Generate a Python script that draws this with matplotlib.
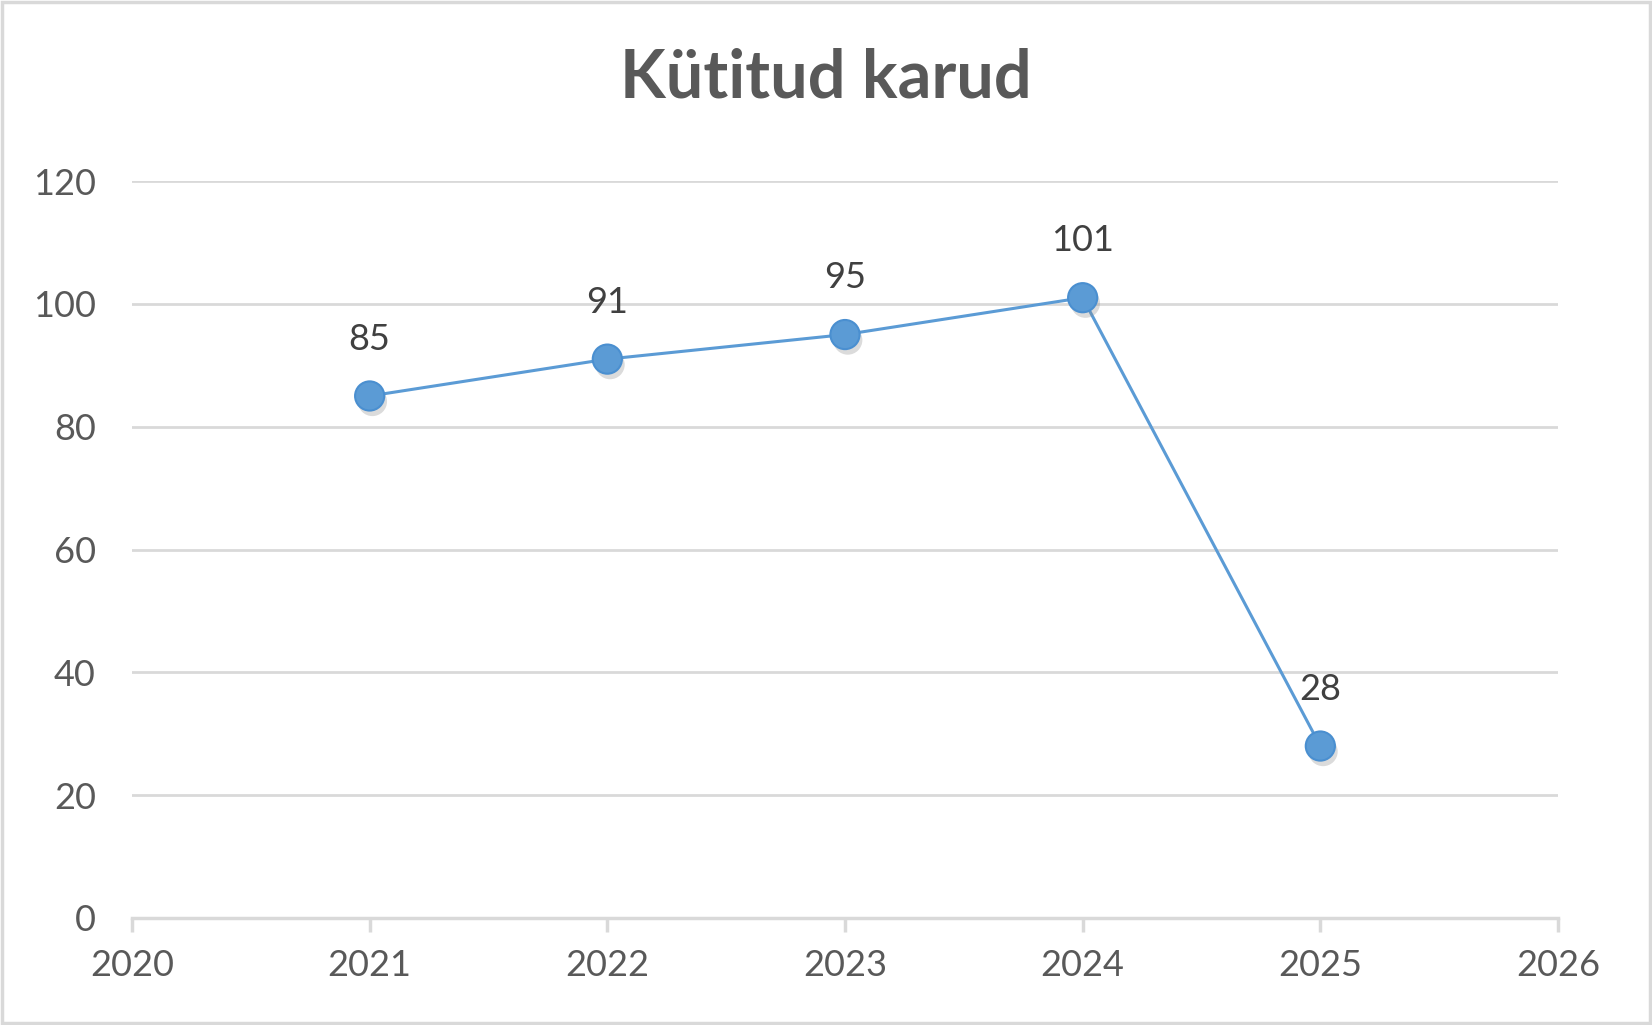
import matplotlib.pyplot as plt
import matplotlib.patheffects as pe
from matplotlib.patches import Rectangle

# Kütitud karud aastate kaupa
years = [2021, 2022, 2023, 2024, 2025]
bears = [85, 91, 95, 101, 28]
y_ticks = [0, 20, 40, 60, 80, 100, 120]
x_ticks = [2020, 2021, 2022, 2023, 2024, 2025, 2026]

plt.rcParams["font.family"] = ["Lato", "DejaVu Sans"]

fig = plt.figure(figsize=(16.52, 10.25), dpi=100)
ax = fig.add_axes([0.0799, 0.1044, 0.8632, 0.719])

# raam ümber joonise
fig.patches.append(Rectangle((0.001, 0.002), 0.998, 0.996, transform=fig.transFigure,
                             fill=False, edgecolor="#d9d9d9", linewidth=2.5))

ax.plot(years, bears, color="#5b9bd5", linewidth=2.2, zorder=3)
ax.plot(years, bears, linestyle="none", marker="o", markersize=21,
        markerfacecolor="#5b9bd5", markeredgecolor="#4a8fd0", markeredgewidth=1.5,
        zorder=4,
        path_effects=[pe.SimplePatchShadow(offset=(2, -4), shadow_rgbFace="#888888", alpha=0.3),
                      pe.Normal()])

for x, y in zip(years, bears):
    ax.annotate(str(y), (x, y), xytext=(0, 29), textcoords="offset points",
                ha="center", va="bottom", fontsize=26, color="#404040")

ax.set_xlim(2020, 2026)
ax.set_ylim(0, 120)
ax.set_xticks(x_ticks)
ax.set_yticks(y_ticks)
ax.grid(axis="y", color="#d9d9d9", linewidth=2)
ax.set_axisbelow(True)

for side in ["top", "right", "left"]:
    ax.spines[side].set_visible(False)
ax.spines["bottom"].set_color("#d9d9d9")
ax.spines["bottom"].set_linewidth(2.5)

ax.tick_params(axis="y", length=0, pad=26, labelsize=26, labelcolor="#595959")
ax.tick_params(axis="x", length=10, width=2.5, color="#d9d9d9", pad=12,
               labelsize=26, labelcolor="#595959")

fig.suptitle("Kütitud karud", x=0.5, y=0.923, va="center", fontsize=48,
             fontweight="bold", color="#595959")

fig.savefig("out.png", dpi=100)
